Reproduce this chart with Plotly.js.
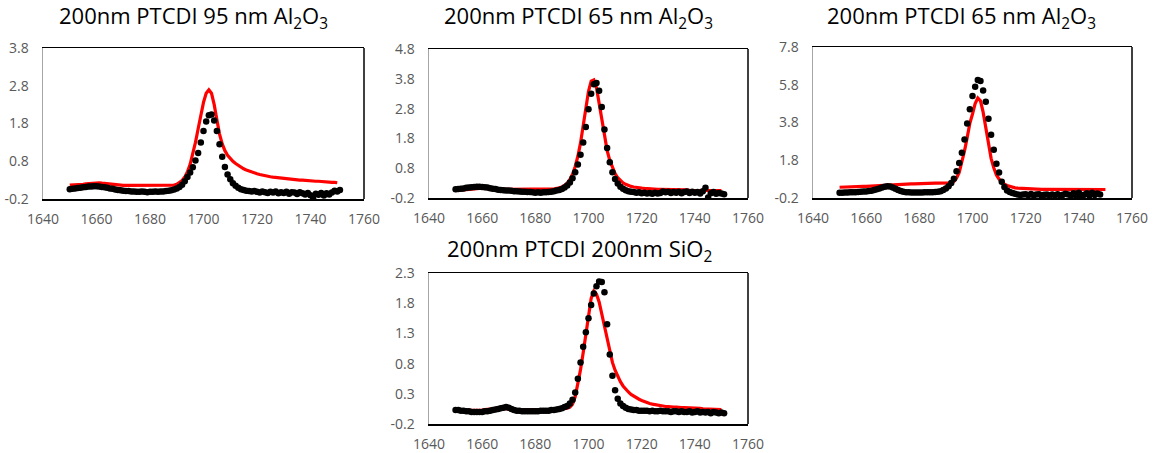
<!DOCTYPE html>
<html><head><meta charset="utf-8">
<script src="https://cdn.plot.ly/plotly-3.0.1.min.js"></script>
<style>html,body{margin:0;padding:0;background:#fff}#chart{width:1158px;height:453px}</style>
</head><body><div id="chart"></div>
<script>
// ---- data ----
const titles = [
  "200nm PTCDI 95 nm Al<sub>2</sub>O<sub>3</sub>",
  "200nm PTCDI 65 nm Al<sub>2</sub>O<sub>3</sub>",
  "200nm PTCDI 65 nm Al<sub>2</sub>O<sub>3</sub>",
  "200nm PTCDI 200nm SiO<sub>2</sub>"
];
const xTicks = [1640,1660,1680,1700,1720,1740,1760];
const yTicks1 = [-0.2,0.8,1.8,2.8,3.8];
const yTicks2 = [-0.2,0.8,1.8,2.8,3.8,4.8];
const yTicks3 = [-0.2,1.8,3.8,5.8,7.8];
const yTicks4 = [-0.2,0.3,0.8,1.3,1.8,2.3];
const yText1 = ["-0.2","0.8","1.8","2.8","3.8"];
const yText2 = ["-0.2","0.8","1.8","2.8","3.8","4.8"];
const yText3 = ["-0.2","1.8","3.8","5.8","7.8"];
const yText4 = ["-0.2","0.3","0.8","1.3","1.8","2.3"];

const wavenumber = [
1650,1651,1652,1653,1654,1655,1656,1657,1658,1659,
1660,1661,1662,1663,1664,1665,1666,1667,1668,1669,
1670,1671,1672,1673,1674,1675,1676,1677,1678,1679,
1680,1681,1682,1683,1684,1685,1686,1687,1688,1689,
1690,1691,1692,1693,1694,1695,1696,1697,1698,1699,
1700,1701,1702,1703,1704,1705,1706,1707,1708,1709,
1710,1711,1712,1713,1714,1715,1716,1717,1718,1719,
1720,1721,1722,1723,1724,1725,1726,1727,1728,1729,
1730,1731,1732,1733,1734,1735,1736,1737,1738,1739,
1740,1741,1742,1743,1744,1745,1746,1747,1748,1749,
1750,1751];

// panel 1: measured (black) and model (red)
const meas1 = [
0.06,0.07,0.08,0.09,0.10,0.11,0.12,0.13,0.13,0.14,
0.14,0.13,0.12,0.11,0.10,0.08,0.07,0.05,0.04,0.03,
0.02,0.01,0.01,0.00,0.00,-0.01,-0.01,0.00,-0.01,-0.02,
-0.01,-0.01,0.00,-0.01,0.00,0.00,0.01,0.02,0.03,0.05,
0.08,0.12,0.18,0.27,0.38,0.50,0.64,0.82,1.02,1.30,
1.60,1.85,2.02,2.04,1.88,1.60,1.25,0.92,0.65,0.45,
0.32,0.22,0.15,0.10,0.06,0.04,0.02,0.01,0.00,0.01,
-0.01,-0.03,0.00,-0.02,-0.04,-0.01,-0.03,0.00,-0.05,-0.02,
-0.04,-0.01,-0.06,-0.02,-0.03,-0.07,-0.02,-0.05,-0.08,-0.04,
-0.10,-0.20,-0.06,-0.09,-0.04,-0.11,-0.05,-0.08,-0.03,0.02,
0.00,0.04];
const model1 = [
0.17,0.17,0.18,0.18,0.19,0.19,0.20,0.21,0.22,0.23,
0.23,0.23,0.22,0.21,0.20,0.19,0.18,0.17,0.17,0.16,
0.16,0.16,0.16,0.15,0.15,0.15,0.15,0.15,0.15,0.15,
0.15,0.15,0.15,0.15,0.15,0.15,0.15,0.16,0.16,0.17,
0.19,0.23,0.29,0.38,0.52,0.72,0.98,1.30,1.66,2.02,
2.36,2.60,2.69,2.60,2.30,1.90,1.52,1.26,1.08,0.96,
0.87,0.80,0.74,0.69,0.64,0.60,0.57,0.54,0.51,0.49,
0.47,0.45,0.43,0.42,0.40,0.39,0.38,0.37,0.36,0.35,
0.34,0.33,0.33,0.32,0.31,0.31,0.30,0.30,0.29,0.29,
0.28,0.28,0.27,0.27,0.26,0.26,0.25,0.25,0.24,0.24,
0.23];

// panel 2
const meas2 = [
0.09,0.10,0.11,0.12,0.14,0.15,0.16,0.17,0.18,0.18,
0.17,0.16,0.15,0.13,0.11,0.10,0.08,0.07,0.06,0.05,
0.05,0.04,0.03,0.03,0.02,0.01,0.01,0.00,0.00,-0.01,
-0.02,-0.01,-0.02,-0.01,-0.01,0.00,0.01,0.03,0.05,0.07,
0.10,0.15,0.22,0.32,0.46,0.66,0.92,1.25,1.66,2.18,
2.78,3.30,3.62,3.66,3.40,2.85,2.10,1.48,1.00,0.66,
0.44,0.29,0.18,0.11,0.06,0.03,0.01,0.00,-0.02,-0.01,
-0.04,-0.02,-0.05,-0.03,-0.06,-0.02,-0.05,-0.03,0.02,-0.01,
0.01,-0.03,0.00,-0.02,0.01,-0.04,0.00,0.02,-0.03,0.01,
-0.02,0.00,-0.05,0.03,0.14,-0.18,-0.04,0.00,-0.06,-0.03,
-0.05,-0.07];
const model2 = [
0.05,0.06,0.07,0.08,0.09,0.10,0.11,0.12,0.12,0.12,
0.12,0.12,0.11,0.11,0.10,0.10,0.09,0.09,0.09,0.09,
0.09,0.09,0.09,0.09,0.09,0.09,0.09,0.09,0.09,0.09,
0.09,0.09,0.09,0.09,0.10,0.10,0.10,0.11,0.12,0.14,
0.17,0.22,0.30,0.42,0.60,0.86,1.20,1.65,2.20,2.80,
3.38,3.72,3.76,3.50,3.00,2.40,1.85,1.40,1.06,0.80,
0.62,0.48,0.38,0.31,0.26,0.22,0.19,0.17,0.15,0.14,
0.13,0.12,0.11,0.11,0.10,0.10,0.09,0.09,0.09,0.08,
0.08,0.08,0.08,0.07,0.07,0.07,0.07,0.07,0.06,0.06,
0.06,0.06,0.06,0.06,0.06,0.05,0.05,0.05,0.05,0.05,
0.05];

// panel 3
const meas3 = [
0.08,0.08,0.09,0.09,0.10,0.10,0.11,0.12,0.13,0.14,
0.15,0.17,0.19,0.22,0.26,0.30,0.35,0.39,0.42,0.41,
0.36,0.29,0.22,0.17,0.13,0.11,0.10,0.09,0.09,0.09,
0.09,0.09,0.10,0.10,0.11,0.11,0.12,0.13,0.16,0.22,
0.30,0.42,0.60,0.82,1.22,1.65,2.20,2.90,3.75,4.50,
5.20,5.70,6.05,6.00,5.50,4.90,4.00,3.15,2.35,1.62,
1.15,0.66,0.38,0.20,0.12,0.06,0.02,-0.01,-0.04,-0.02,
0.00,-0.05,0.01,-0.06,-0.02,0.00,-0.07,-0.03,-0.01,-0.06,
-0.02,-0.05,0.00,-0.07,-0.03,0.02,-0.02,-0.06,0.05,-0.09,
0.08,-0.11,-0.03,0.05,-0.07,0.08,-0.04,0.04,-0.02];
const model3 = [
0.37,0.38,0.38,0.39,0.39,0.40,0.40,0.41,0.41,0.42,
0.42,0.43,0.44,0.45,0.46,0.47,0.48,0.49,0.50,0.50,
0.51,0.52,0.52,0.53,0.53,0.54,0.54,0.55,0.55,0.56,
0.56,0.57,0.57,0.58,0.58,0.58,0.59,0.59,0.59,0.59,
0.59,0.59,0.60,0.68,0.85,1.15,1.65,2.30,3.00,3.75,
4.25,4.80,5.10,4.95,4.35,3.50,2.65,1.90,1.40,1.02,
0.80,0.64,0.53,0.46,0.41,0.37,0.34,0.32,0.31,0.29,
0.28,0.28,0.27,0.27,0.27,0.26,0.26,0.26,0.26,0.26,
0.26,0.26,0.25,0.25,0.25,0.25,0.25,0.25,0.25,0.25,
0.25,0.25,0.25,0.25,0.25,0.25,0.25,0.25,0.25,0.25,
0.25];

// panel 4
const meas4 = [
0.03,0.03,0.02,0.02,0.01,0.01,0.00,0.00,0.00,0.00,
0.00,0.01,0.01,0.02,0.03,0.04,0.05,0.06,0.07,0.08,
0.07,0.05,0.03,0.02,0.02,0.01,0.01,0.01,0.01,0.01,
0.01,0.01,0.02,0.02,0.02,0.02,0.03,0.03,0.04,0.05,
0.06,0.08,0.10,0.14,0.20,0.32,0.55,0.82,1.08,1.32,
1.55,1.77,1.96,2.08,2.16,2.15,1.98,1.45,0.95,0.60,
0.36,0.22,0.14,0.10,0.07,0.05,0.04,0.03,0.03,0.02,
0.02,0.02,0.02,0.01,0.02,0.01,0.01,0.02,0.01,0.01,
0.01,0.00,0.01,0.01,0.00,0.01,0.00,0.00,0.01,-0.01,
0.00,0.01,-0.01,0.00,-0.01,0.00,-0.02,0.00,-0.01,-0.02,
-0.01,-0.02];
const model4 = [
0.02,0.02,0.02,0.02,0.02,0.02,0.02,0.02,0.02,0.03,
0.03,0.04,0.04,0.05,0.05,0.06,0.06,0.06,0.06,0.06,
0.05,0.04,0.04,0.03,0.03,0.03,0.03,0.03,0.03,0.03,
0.03,0.03,0.03,0.03,0.03,0.03,0.03,0.04,0.04,0.04,
0.05,0.05,0.06,0.08,0.13,0.25,0.45,0.70,0.98,1.30,
1.62,1.88,2.00,1.95,1.82,1.62,1.40,1.18,0.98,0.82,
0.69,0.58,0.50,0.43,0.37,0.33,0.29,0.26,0.23,0.21,
0.19,0.17,0.16,0.14,0.13,0.12,0.11,0.11,0.10,0.09,
0.09,0.08,0.08,0.08,0.07,0.07,0.07,0.07,0.06,0.06,
0.06,0.06,0.06,0.05,0.05,0.05,0.05,0.05,0.05,0.05,
0.04];

// ---- chart ----
const FONT = 'Open Sans, Noto Sans, sans-serif';
const W = 1158, H = 453;
const panels = [
  {meas: meas1, model: model1, yr: [-0.2,3.8], yt: yTicks1, ytt: yText1,
   box: [43,364,48,199], tx: 193, ty: 17},
  {meas: meas2, model: model2, yr: [-0.2,4.8], yt: yTicks2, ytt: yText2,
   box: [429,748,49,198], tx: 578, ty: 17},
  {meas: meas3, model: model3, yr: [-0.2,7.8], yt: yTicks3, ytt: yText3,
   box: [813,1132,47,198], tx: 961, ty: 17},
  {meas: meas4, model: model4, yr: [-0.2,2.3], yt: yTicks4, ytt: yText4,
   box: [429,748,273,424], tx: 579, ty: 250}
];

const traces = [];
const layout = {
  width: W, height: H, autosize: false,
  margin: {l:0, r:0, t:0, b:0},
  paper_bgcolor: '#fff', plot_bgcolor: '#fff',
  showlegend: false,
  annotations: [], shapes: []
};

panels.forEach((p, i) => {
  const n = i === 0 ? '' : String(i + 1);
  const xa = 'x' + n, ya = 'y' + n;
  traces.push({
    type: 'scatter', mode: 'lines', xaxis: xa, yaxis: ya,
    x: wavenumber.slice(0, p.model.length), y: p.model,
    line: {color: '#ff0000', width: 3.2}, hoverinfo: 'skip'
  });
  traces.push({
    type: 'scatter', mode: 'markers', xaxis: xa, yaxis: ya,
    x: wavenumber.slice(0, p.meas.length), y: p.meas,
    marker: {color: '#000', size: 6.5}, hoverinfo: 'skip'
  });
  const [l, r, t, b] = p.box;
  layout['xaxis' + n] = {
    domain: [l / W, r / W], anchor: ya, range: [1640, 1760],
    tickvals: xTicks, ticktext: xTicks.map(String),
    showgrid: false, zeroline: false, showline: true, mirror: true,
    linecolor: '#000', linewidth: 1.5, ticks: '',
    ticklabelstandoff: 7,
    tickfont: {family: FONT, size: 14, color: '#595959'}, fixedrange: true
  };
  layout['yaxis' + n] = {
    domain: [1 - b / H, 1 - t / H], anchor: xa, range: p.yr,
    tickvals: p.yt, ticktext: p.ytt,
    showgrid: false, zeroline: false, showline: true, mirror: false,
    linecolor: '#a6a6a6', linewidth: 1.5, ticks: '',
    ticklabelstandoff: 10,
    tickfont: {family: FONT, size: 14, color: '#595959'}, fixedrange: true
  };
  layout.shapes.push({
    type: 'line', xref: xa + ' domain', yref: ya + ' domain',
    x0: 1, x1: 1, y0: 0, y1: 1, line: {color: '#000', width: 1.5}
  });
  layout.annotations.push({
    text: titles[i], xref: 'paper', yref: 'paper',
    x: p.tx / W, y: 1 - p.ty / H, xanchor: 'center', yanchor: 'middle',
    showarrow: false, font: {family: FONT, size: 22, color: '#000'}
  });
});

Plotly.newPlot('chart', traces, layout, {displayModeBar: false, staticPlot: true});
</script>
</body></html>
